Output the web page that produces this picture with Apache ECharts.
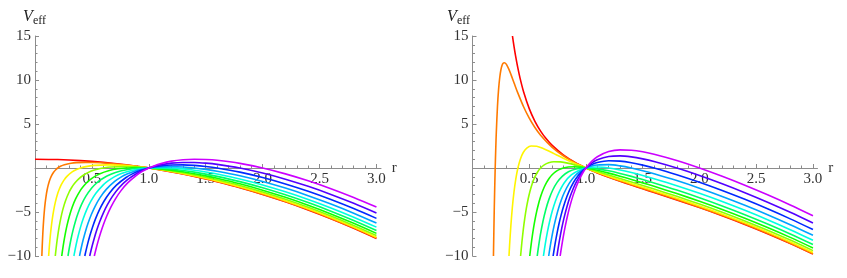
<!DOCTYPE html>
<html><head><meta charset="utf-8">
<script src="https://cdn.jsdelivr.net/npm/echarts@6/dist/echarts.min.js"></script>
<style>html,body{margin:0;padding:0;background:#fff}#c{width:847px;height:278px}</style>
</head><body><div id="c"></div>
<script>
// Angular momentum parameter of each curve (red -> purple)
const Lvalues = [0, 0.2, 0.4, 0.6, 0.8, 1.0, 1.2, 1.4, 1.6, 1.8, 2.0];
const curveColors = ['#ff0000','#ff7a00','#fff500','#8fff00','#14ff00','#00ff66','#00ffe0','#00a3ff','#0029ff','#5200ff','#cc00ff'];

// x tick values
const xMajor = [0.5, 1.0, 1.5, 2.0, 2.5, 3.0];
const xMinor = [0.1,0.2,0.3,0.4,0.6,0.7,0.8,0.9,1.1,1.2,1.3,1.4,1.6,1.7,1.8,1.9,2.1,2.2,2.3,2.4,2.6,2.7,2.8,2.9];

// common r grid for r >= 1
const rOuter = [1, 1.05, 1.1, 1.2, 1.3, 1.4, 1.5, 1.6, 1.8, 2.0, 2.2, 2.4, 2.6, 2.8, 3.0];

// ---------- left panel ----------
const leftInner = [
 [[0,1],[0.2,0.96],[0.4,0.84],[0.6,0.64],[0.8,0.36],[1,0]],
 [[0.0602,-10],[0.0632,-8.964],[0.0667,-7.964],[0.0707,-6.965],[0.0756,-5.966],[0.0816,-4.967],[0.0894,-3.968],[0.1,-2.97],[0.1069,-2.471],[0.1155,-1.973],[0.1265,-1.476],[0.1414,-0.98],[0.1633,-0.487],[0.1826,-0.193],[0.2,0],[0.2236,0.19],[0.2582,0.373],[0.3162,0.54],[0.3651,0.607],[0.4472,0.64],[0.5164,0.623],[0.6325,0.54],[0.7559,0.399],[0.8944,0.19],[1,0]],
 [[0.1198,-10],[0.1265,-8.856],[0.1333,-7.858],[0.1414,-6.86],[0.1512,-5.863],[0.1633,-4.867],[0.1789,-3.872],[0.2,-2.88],[0.2138,-2.386],[0.2309,-1.893],[0.253,-1.404],[0.2828,-0.92],[0.3266,-0.447],[0.3651,-0.173],[0.4,0],[0.4472,0.16],[0.5164,0.293],[0.6325,0.36],[0.7303,0.327],[0.8944,0.16],[1,0]],
 [[0.1783,-10],[0.1809,-9.673],[0.1897,-8.676],[0.2,-7.68],[0.2121,-6.685],[0.2268,-5.691],[0.2449,-4.7],[0.2683,-3.712],[0.3,-2.73],[0.3207,-2.243],[0.3464,-1.76],[0.3795,-1.284],[0.4243,-0.82],[0.4899,-0.38],[0.5477,-0.14],[0.6,0],[0.6708,0.11],[0.7746,0.16],[0.87,0.127],[0.9487,0.06],[1,0]],
 [[0.235,-10],[0.2412,-9.418],[0.253,-8.424],[0.2667,-7.431],[0.2828,-6.44],[0.3024,-5.451],[0.3266,-4.467],[0.3578,-3.488],[0.4,-2.52],[0.4276,-2.043],[0.4619,-1.573],[0.506,-1.116],[0.5657,-0.68],[0.6532,-0.287],[0.7303,-0.093],[0.8,0],[0.85,0.032],[0.8944,0.04],[0.95,0.028],[1,0]],
 [[0.2897,-10],[0.3015,-9.091],[0.3162,-8.1],[0.3333,-7.111],[0.3536,-6.125],[0.378,-5.143],[0.4082,-4.167],[0.4472,-3.2],[0.5,-2.25],[0.5345,-1.786],[0.5774,-1.333],[0.6325,-0.9],[0.7071,-0.5],[0.8165,-0.167],[0.9129,-0.033],[1,0]],
 [[0.3418,-10],[0.3464,-9.68],[0.3618,-8.691],[0.3795,-7.704],[0.4,-6.72],[0.4243,-5.74],[0.4536,-4.766],[0.4899,-3.8],[0.5367,-2.848],[0.6,-1.92],[0.6414,-1.471],[0.6928,-1.04],[0.7589,-0.636],[0.8485,-0.28],[0.92,-0.108],[0.9798,-0.02],[1,0]],
 [[0.3912,-10],[0.4041,-9.203],[0.4221,-8.218],[0.4427,-7.236],[0.4667,-6.258],[0.495,-5.285],[0.5292,-4.32],[0.5715,-3.367],[0.6261,-2.432],[0.7,-1.53],[0.7483,-1.1],[0.8083,-0.693],[0.8854,-0.324],[0.94,-0.142],[0.9899,-0.02],[1,0]],
 [[0.4376,-10],[0.4438,-9.637],[0.4619,-8.653],[0.4824,-7.673],[0.506,-6.696],[0.5333,-5.724],[0.5657,-4.76],[0.6047,-3.806],[0.6532,-2.867],[0.7155,-1.952],[0.8,-1.08],[0.8552,-0.671],[0.9238,-0.293],[1,0]],
 [[0.4809,-10],[0.4992,-9.009],[0.5196,-8.03],[0.5427,-7.055],[0.5692,-6.084],[0.6,-5.12],[0.6364,-4.165],[0.6803,-3.223],[0.7348,-2.3],[0.805,-1.408],[0.9,-0.57],[0.9621,-0.186],[1,0]],
 [[0.5211,-10],[0.5345,-9.286],[0.5547,-8.308],[0.5774,-7.333],[0.603,-6.364],[0.6325,-5.4],[0.6667,-4.444],[0.7071,-3.5],[0.7559,-2.571],[0.8165,-1.667],[0.8944,-0.8],[0.9428,-0.389],[1,0]]
];
const leftOuter = [
 [0,-0.1025,-0.21,-0.44,-0.69,-0.96,-1.25,-1.56,-2.24,-3,-3.84,-4.76,-5.76,-6.84,-8],
 [0,-0.0988,-0.203,-0.428,-0.674,-0.94,-1.228,-1.536,-2.212,-2.97,-3.808,-4.727,-5.726,-6.805,-7.964],
 [0,-0.0876,-0.182,-0.391,-0.625,-0.882,-1.161,-1.463,-2.129,-2.88,-3.713,-4.628,-5.624,-6.7,-7.858],
 [0,-0.069,-0.148,-0.33,-0.543,-0.784,-1.05,-1.341,-1.991,-2.73,-3.554,-4.463,-5.453,-6.526,-7.68],
 [0,-0.043,-0.099,-0.244,-0.429,-0.647,-0.894,-1.17,-1.798,-2.52,-3.332,-4.231,-5.215,-6.282,-7.431],
 [0,-0.0095,-0.036,-0.134,-0.282,-0.47,-0.694,-0.951,-1.549,-2.25,-3.047,-3.934,-4.908,-5.968,-7.111],
 [0,0.0314,0.04,0,-0.102,-0.255,-0.45,-0.683,-1.244,-1.92,-2.698,-3.57,-4.533,-5.584,-6.72],
 [0,0.0797,0.13,0.159,0.11,0,-0.161,-0.366,-0.885,-1.53,-2.285,-3.14,-4.09,-5.13,-6.258],
 [0,0.1355,0.234,0.342,0.355,0.294,0.172,0,-0.47,-1.08,-1.809,-2.644,-3.579,-4.607,-5.724],
 [0,0.1987,0.353,0.55,0.633,0.627,0.55,0.415,0,-0.57,-1.269,-2.083,-2.999,-4.013,-5.12],
 [0,0.2694,0.484,0.782,0.943,0.999,0.972,0.878,0.526,0,-0.666,-1.454,-2.352,-3.35,-4.444]
];

// ---------- right panel ----------
const rightInner = [
 [[0.3522,15],[0.365,13.879],[0.38,12.706],[0.4,11.34],[0.42,10.162],[0.45,8.674],[0.5,6.75],[0.55,5.309],[0.6,4.196],[0.65,3.311],[0.7,2.592],[0.8,1.485],[0.9,0.659],[1,0]],
 [[0.1846,-10],[0.188,-7.318],[0.192,-4.527],[0.196,-2.104],[0.2,0],[0.205,2.243],[0.21,4.119],[0.22,6.989],[0.23,8.963],[0.24,10.286],[0.25,11.138],[0.26,11.643],[0.27,11.897],[0.28,11.967],[0.29,11.902],[0.3,11.74],[0.32,11.23],[0.34,10.585],[0.37,9.536],[0.4,8.505],[0.45,6.961],[0.5,5.67],[0.55,4.607],[0.6,3.73],[0.7,2.38],[0.8,1.392],[0.9,0.626],[1,0]],
 [[0.3215,-10],[0.3266,-8.822],[0.3381,-6.554],[0.3508,-4.538],[0.3651,-2.773],[0.3814,-1.26],[0.4,0],[0.4216,1.007],[0.4472,1.76],[0.4781,2.256],[0.5164,2.493],[0.5657,2.465],[0.6325,2.16],[0.6761,1.897],[0.7303,1.552],[0.8,1.114],[0.8944,0.56],[1,0]],
 [[0.4238,-10],[0.4353,-8.43],[0.4472,-7.04],[0.4602,-5.763],[0.4743,-4.598],[0.4899,-3.547],[0.5071,-2.608],[0.5262,-1.784],[0.5477,-1.073],[0.5721,-0.478],[0.6,0],[0.6325,0.36],[0.6708,0.599],[0.7171,0.712],[0.7746,0.693],[0.8485,0.529],[0.9258,0.276],[1,0]],
 [[0.5045,-10],[0.5164,-8.727],[0.5275,-7.682],[0.5394,-6.701],[0.5521,-5.784],[0.5657,-4.93],[0.5804,-4.141],[0.5963,-3.416],[0.6136,-2.755],[0.6325,-2.16],[0.6532,-1.63],[0.6761,-1.167],[0.7016,-0.771],[0.7303,-0.443],[0.7628,-0.186],[0.8,0],[0.8433,0.11],[0.8944,0.14],[0.9428,0.101],[1,0]],
 [[0.5704,-10],[0.5774,-9.333],[0.5976,-7.637],[0.6202,-6.105],[0.6455,-4.737],[0.6742,-3.535],[0.7071,-2.5],[0.7454,-1.636],[0.7906,-0.945],[0.8452,-0.434],[0.9129,-0.113],[1,0]],
 [[0.6252,-10],[0.6414,-8.624],[0.6606,-7.238],[0.6816,-5.966],[0.7047,-4.809],[0.7303,-3.768],[0.7589,-2.844],[0.809,-1.681],[0.8706,-0.793],[0.9487,-0.193],[1,0]],
 [[0.6714,-10],[0.6831,-9.021],[0.7,-7.775],[0.7182,-6.613],[0.7379,-5.535],[0.7593,-4.543],[0.7826,-3.636],[0.8083,-2.816],[0.852,-1.75],[0.9037,-0.885],[0.9439,-0.425],[1,0]],
 [[0.7105,-10],[0.7155,-9.577],[0.7303,-8.423],[0.746,-7.334],[0.7628,-6.309],[0.7807,-5.35],[0.8,-4.455],[0.8318,-3.237],[0.8677,-2.168],[0.9087,-1.252],[0.9562,-0.492],[1,0]],
 [[0.744,-10],[0.7474,-9.704],[0.7606,-8.64],[0.7746,-7.627],[0.7893,-6.665],[0.805,-5.754],[0.8303,-4.484],[0.8581,-3.331],[0.889,-2.296],[0.9234,-1.381],[0.9621,-0.587],[1,0]],
 [[0.7726,-10],[0.7785,-9.486],[0.7906,-8.505],[0.8032,-7.565],[0.8165,-6.667],[0.8377,-5.397],[0.8607,-4.221],[0.8856,-3.139],[0.9129,-2.153],[0.9428,-1.264],[0.9701,-0.598],[1,0]]
];
const rightOuter = [
 [0,-0.2884,-0.557,-1.051,-1.507,-1.94,-2.361,-2.779,-3.623,-4.5,-5.427,-6.413,-7.464,-8.585,-9.778],
 [0,-0.278,-0.539,-1.022,-1.471,-1.9,-2.319,-2.735,-3.578,-4.455,-5.382,-6.368,-7.42,-8.541,-9.734],
 [0,-0.2466,-0.484,-0.934,-1.364,-1.781,-2.193,-2.605,-3.444,-4.32,-5.247,-6.235,-7.288,-8.41,-9.604],
 [0,-0.1943,-0.391,-0.788,-1.186,-1.583,-1.983,-2.388,-3.22,-4.095,-5.023,-6.012,-7.067,-8.191,-9.387],
 [0,-0.121,-0.263,-0.584,-0.936,-1.306,-1.69,-2.084,-2.907,-3.78,-4.709,-5.7,-6.758,-7.884,-9.083],
 [0,-0.0268,-0.097,-0.321,-0.615,-0.95,-1.312,-1.693,-2.505,-3.375,-4.306,-5.3,-6.36,-7.49,-8.691],
 [0,0.0883,0.106,0,-0.223,-0.515,-0.85,-1.216,-2.013,-2.88,-3.812,-4.81,-5.874,-7.008,-8.213],
 [0,0.2243,0.345,0.38,0.241,0,-0.304,-0.651,-1.431,-2.295,-3.229,-4.231,-5.3,-6.438,-7.648],
 [0,0.3813,0.622,0.817,0.776,0.594,0.325,0,-0.76,-1.62,-2.557,-3.563,-4.638,-5.781,-6.997],
 [0,0.5592,0.935,1.314,1.382,1.267,1.039,0.738,0,-0.855,-1.794,-2.806,-3.887,-5.036,-6.258],
 [0,0.758,1.285,1.869,2.059,2.019,1.837,1.563,0.85,0,-0.942,-1.96,-3.048,-4.203,-5.432]
];

// ---------- chart ----------
const FONT = '"Liberation Serif", "Times New Roman", serif';
const AX = '#8c8c8c';
const LBL = '#333';
const xMax = 3.04;
const yMin = -10, yMax = 15;
const gridH = 220;
// x axis sits at V = 0 : distance from the bottom of the plot area
const zeroOffset = -gridH * (0 - yMin) / (yMax - yMin);

function buildCurve(inner, outer) {
  return inner.concat(rOuter.slice(1).map((r, k) => [r, outer[k + 1]]));
}
function yFmt(v) { if (v === 0) return ''; return v < 0 ? '\u2212' + (-v) : String(v); }

const grids = [
  { left: 35, top: 36, width: 346, height: gridH },
  { left: 472.5, top: 36, width: 345, height: gridH }
];
const xAxes = [], yAxes = [];
[0, 1].forEach(g => {
  xAxes.push({
    type: 'value', gridIndex: g, min: 0, max: xMax, position: 'bottom', offset: zeroOffset,
    axisLine: { onZero: false, lineStyle: { color: AX, width: 1 } },
    axisTick: { inside: true, length: 4, customValues: xMajor, lineStyle: { color: AX } },
    axisLabel: { customValues: xMajor, formatter: v => v.toFixed(1), fontFamily: FONT, fontSize: 15, color: LBL, margin: 4 },
    splitLine: { show: false },
    name: 'r', nameLocation: 'end', nameGap: 10,
    nameTextStyle: { fontFamily: FONT, fontSize: 15, color: LBL, verticalAlign: 'middle' }
  });
  xAxes.push({
    type: 'value', gridIndex: g, min: 0, max: xMax, position: 'bottom', offset: zeroOffset,
    axisLine: { show: false, onZero: false },
    axisTick: { inside: true, length: 2.5, customValues: xMinor, lineStyle: { color: AX } },
    axisLabel: { show: false }, splitLine: { show: false }
  });
  yAxes.push({
    type: 'value', gridIndex: g, min: yMin, max: yMax, interval: 5,
    axisLine: { show: true, onZero: false, lineStyle: { color: AX, width: 1 } },
    axisTick: { show: true, inside: true, length: 4, lineStyle: { color: AX } },
    minorTick: { show: true, splitNumber: 5, length: 2.5, lineStyle: { color: AX } },
    axisLabel: { formatter: yFmt, fontFamily: FONT, fontSize: 15, color: LBL, margin: 4 },
    splitLine: { show: false }
  });
});

const series = [];
Lvalues.forEach((L, i) => {
  series.push({
    type: 'line', name: 'L=' + L, xAxisIndex: 0, yAxisIndex: 0,
    data: buildCurve(leftInner[i], leftOuter[i]),
    showSymbol: false, smooth: 0.3, clip: true,
    lineStyle: { color: curveColors[i], width: 1.6 }, silent: true
  });
});
Lvalues.forEach((L, i) => {
  series.push({
    type: 'line', name: 'L=' + L, xAxisIndex: 2, yAxisIndex: 1,
    data: buildCurve(rightInner[i], rightOuter[i]),
    showSymbol: false, smooth: 0.3, clip: true,
    lineStyle: { color: curveColors[i], width: 1.6 }, silent: true
  });
});

function vLabel(x) {
  return [
    { type: 'text', left: x, top: 9, style: { text: 'V', fontFamily: FONT, fontStyle: 'italic', fontSize: 16, fill: '#222' } },
    { type: 'text', left: x + 10, top: 15, style: { text: 'eff', fontFamily: FONT, fontSize: 12, fill: '#222' } }
  ];
}

const chart = echarts.init(document.getElementById('c'), null, { renderer: 'canvas' });
chart.setOption({
  animation: false,
  backgroundColor: '#fff',
  grid: grids,
  xAxis: xAxes,
  yAxis: yAxes,
  series: series,
  graphic: vLabel(23).concat(vLabel(447))
});
</script>
</body></html>
